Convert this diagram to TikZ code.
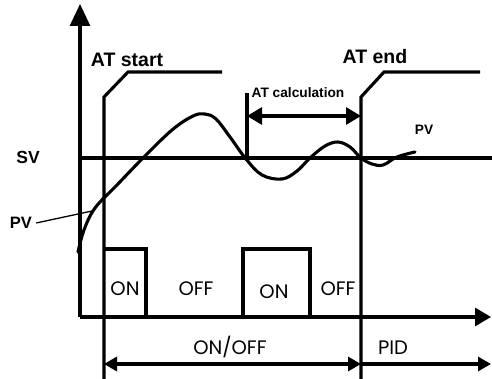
\documentclass[tikz,border=0pt]{standalone}
\usepackage{fontspec}
\setmainfont{Liberation Sans}
\newfontfamily\geo{Poppins}
\usetikzlibrary{arrows.meta}
\begin{document}
\begin{tikzpicture}[x=1pt,y=-1pt,
  thick line/.style={line width=3.1pt},
  bold label/.style={font=\bfseries, inner sep=0pt},
  thin label/.style={font=\geo\fontsize{19.5}{19.5}\selectfont, inner sep=0pt},
  line join=miter]
\useasboundingbox (0,0) rectangle (492,379);
% key coordinates
\coordinate (ytop) at (80,4);
\coordinate (orig) at (80,317);
\coordinate (xend) at (491,317);
\coordinate (svL) at (80,158);
\coordinate (svR) at (492,158);
\coordinate (s1) at (104,379);
\coordinate (s2) at (104,97);
\coordinate (s3) at (128,72);
\coordinate (s4) at (222,72);
\coordinate (e1) at (361,379);
\coordinate (e2) at (361,97);
\coordinate (e3) at (384,72);
\coordinate (e4) at (480,72);
\coordinate (c1) at (247,93);
\coordinate (c2) at (247,158);
\coordinate (ca) at (247,116);
\coordinate (cb) at (361,116);
\coordinate (b1a) at (104,249);
\coordinate (b1b) at (146,249);
\coordinate (b1c) at (146,317);
\coordinate (b2a) at (243,317);
\coordinate (b2b) at (243,249);
\coordinate (b2c) at (310,249);
\coordinate (b2d) at (310,317);
\coordinate (oa) at (104,364);
\coordinate (ob) at (361,364);
\coordinate (pb) at (491,364);
% axes
\draw[thick line,-{Triangle[length=22pt,width=20pt]}] (orig) -- (ytop);
\draw[thick line,-{Triangle[length=16pt,width=18pt]}] (orig) -- (xend);
% SV line
\draw[thick line] (svL) -- (svR);
% AT start / end
\draw[thick line] (s1) -- (s2) -- (s3) -- (s4);
\draw[thick line] (e1) -- (e2) -- (e3) -- (e4);
\draw[thick line] (c1) -- (c2);
\draw[thick line,{Triangle[length=15pt,width=17pt]}-{Triangle[length=15pt,width=17pt]}] (ca) -- (cb);
% ON boxes
\draw[thick line] (b1a) -- (b1b) -- (b1c);
\draw[thick line] (b2a) -- (b2b) -- (b2c) -- (b2d);
% bottom arrows
\draw[thick line,{Triangle[length=13pt,width=14pt]}-{Triangle[length=13pt,width=14pt]}] (oa) -- (ob);
\draw[thick line,-{Triangle[length=13pt,width=14pt]}] (ob) -- (pb);
% PV curve
\draw[thick line, line cap=round] plot[smooth,tension=0.6] coordinates {
 (78,252) (84,230) (95,208) (117,185) (143,158) (172,130) (193,116) (205,114)
 (216,119) (230,137) (246,159) (262,175) (282,179) (297,171) (310,158)
 (325,146) (338,142) (350,147) (361,158) (372,164) (383,165) (397,157) (415,152)};
% labels
\node[bold label, font=\bfseries\fontsize{19.5}{19.5}\selectfont] (atstart) at (127,60) {AT start};
\node[bold label, font=\bfseries\fontsize{19.5}{19.5}\selectfont] (atend) at (375,57) {AT end};
\node[bold label, font=\bfseries\fontsize{13.7}{13.7}\selectfont] (atcalc) at (298,93) {AT calculation};
\node[bold label, font=\bfseries\fontsize{17.5}{17.5}\selectfont] (sv) at (28,157) {SV};
\node[bold label, font=\bfseries\fontsize{16.5}{16.5}\selectfont] (pvl) at (21,223) {PV};
\node[bold label, font=\bfseries\fontsize{13.7}{13.7}\selectfont] (pvr) at (424,130) {PV};
\coordinate (pvtip) at (92,211);
\draw[line width=1.3pt] (pvl.east) ++(4,0) coordinate (pvs) (pvs) -- (pvtip);
\node[thin label] (on1) at (125,289) {ON};
\node[thin label] (off1) at (196,289) {OFF};
\node[thin label] (on2) at (274,292) {ON};
\node[thin label] (off2) at (338,289) {OFF};
\node[thin label] (onoff) at (230,347) {ON/OFF};
\node[thin label] (pid) at (393,348) {PID};
\end{tikzpicture}
\end{document}
